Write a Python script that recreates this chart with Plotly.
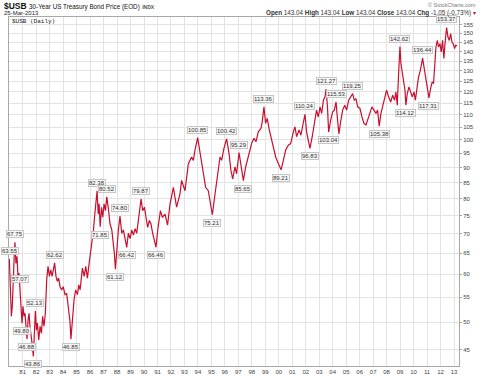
import datetime as dt
import math
import plotly.graph_objects as go

# ---------------- data ----------------
years = [
    1980.01, 1980.08, 1980.16, 1980.23, 1980.31, 1980.38, 1980.43, 1980.50, 1980.58, 1980.65,
    1980.73, 1980.80, 1980.88, 1980.95, 1981.02, 1981.10, 1981.17, 1981.25, 1981.32, 1981.40,
    1981.47, 1981.54, 1981.62, 1981.69, 1981.79, 1981.87, 1981.94, 1982.02, 1982.09, 1982.19,
    1982.29, 1982.39, 1982.48, 1982.58, 1982.68, 1982.78, 1982.88, 1982.98, 1983.08, 1983.18,
    1983.28, 1983.37, 1983.47, 1983.57, 1983.67, 1983.77, 1983.89, 1984.01, 1984.14, 1984.26,
    1984.39, 1984.51, 1984.58, 1984.68, 1984.81, 1984.93, 1985.06, 1985.16, 1985.26, 1985.43,
    1985.56, 1985.68, 1985.80, 1985.93, 1986.05, 1986.15, 1986.25, 1986.35, 1986.45, 1986.52,
    1986.60, 1986.67, 1986.75, 1986.85, 1986.94, 1987.04, 1987.14, 1987.24, 1987.36, 1987.48,
    1987.61, 1987.73, 1987.80, 1987.88, 1987.98, 1988.10, 1988.22, 1988.35, 1988.47, 1988.60,
    1988.72, 1988.84, 1988.97, 1989.09, 1989.21, 1989.34, 1989.46, 1989.58, 1989.68, 1989.78,
    1989.90, 1990.03, 1990.15, 1990.27, 1990.40, 1990.52, 1990.64, 1990.77, 1990.89, 1991.02,
    1991.14, 1991.22, 1991.36, 1991.56, 1991.75, 1991.93, 1992.18, 1992.42, 1992.67, 1992.79,
    1993.04, 1993.29, 1993.53, 1993.66, 1993.78, 1993.98, 1994.17, 1994.40, 1994.57, 1994.77,
    1994.90, 1995.07, 1995.27, 1995.51, 1995.64, 1995.76, 1995.93, 1996.13, 1996.31, 1996.45,
    1996.58, 1996.75, 1996.87, 1997.05, 1997.20, 1997.37, 1997.54, 1997.74, 1997.98, 1998.16,
    1998.31, 1998.48, 1998.68, 1998.77, 1998.90, 1999.02, 1999.14, 1999.30, 1999.47, 1999.60,
    1999.77, 1999.92, 2000.17, 2000.34, 2000.51, 2000.71, 2000.88, 2001.08, 2001.20, 2001.32,
    2001.50, 2001.64, 2001.82, 2001.94, 2002.06, 2002.19, 2002.31, 2002.48, 2002.63, 2002.80,
    2002.93, 2003.06, 2003.18, 2003.31, 2003.43, 2003.51, 2003.61, 2003.70, 2003.85, 2004.00,
    2004.12, 2004.25, 2004.34, 2004.46, 2004.59, 2004.74, 2004.89, 2005.03, 2005.18, 2005.33,
    2005.48, 2005.60, 2005.73, 2005.85, 2006.02, 2006.17, 2006.32, 2006.47, 2006.61, 2006.76,
    2006.91, 2007.06, 2007.21, 2007.33, 2007.45, 2007.58, 2007.70, 2007.85, 2008.00, 2008.15,
    2008.30, 2008.45, 2008.59, 2008.69, 2008.79, 2008.89, 2008.99, 2009.06, 2009.16, 2009.26,
    2009.36, 2009.43, 2009.53, 2009.66, 2009.78, 2009.90, 2010.03, 2010.13, 2010.25, 2010.37,
    2010.50, 2010.67, 2010.77, 2010.89, 2011.02, 2011.14, 2011.26, 2011.38, 2011.48, 2011.56,
    2011.66, 2011.76, 2011.85, 2011.96, 2012.05, 2012.15, 2012.25, 2012.33, 2012.45, 2012.55,
    2012.65, 2012.75, 2012.85, 2012.94, 2013.04, 2013.12, 2013.23,
]
prices = [
    63.55, 56.5, 51.1, 53.1, 61.8, 65.0, 67.75, 62.5, 64.2, 59.5,
    60.2, 57.07, 53.1, 49.80, 53.1, 51.1, 51.7, 49.2, 46.88, 50.4,
    51.7, 49.2, 47.9, 46.2, 43.86, 47.9, 52.13, 48.5, 49.8, 46.7,
    49.2, 47.9, 51.1, 49.2, 51.7, 58.7, 61.8, 59.5, 61.0, 59.5,
    61.4, 62.62, 59.5, 58.4, 59.1, 57.2, 56.5, 57.2, 55.5, 55.8,
    52.8, 50.1, 46.85, 50.4, 54.4, 56.5, 55.5, 57.6, 56.5, 61.4,
    59.5, 61.8, 59.1, 62.5, 65.4, 67.0, 71.0, 75.4, 79.4, 82.38,
    75.4, 78.4, 71.85, 77.4, 74.5, 78.4, 76.4, 80.52, 76.9, 72.6,
    71.0, 67.5, 65.0, 61.12, 66.6, 71.0, 74.80, 70.1, 71.0, 67.9,
    66.42, 70.1, 68.7, 71.0, 69.6, 71.3, 70.1, 73.6, 77.4, 79.87,
    76.4, 77.4, 74.5, 71.7, 73.6, 72.6, 70.1, 68.3, 66.46, 71.0,
    74.5, 76.4, 74.5, 75.4, 72.3, 78.3, 83.5, 77.4, 81.4, 85.7,
    82.4, 91.3, 93.7, 92.5, 96.2, 100.85, 94.9, 87.9, 83.5, 82.4,
    79.3, 75.21, 81.4, 89.0, 93.7, 92.5, 96.8, 100.42, 94.9, 89.0,
    86.2, 90.2, 87.9, 95.29, 90.2, 85.65, 90.2, 93.7, 98.6, 100.6,
    99.3, 103.1, 104.5, 107.2, 113.36, 106.5, 108.5, 103.8, 99.9, 96.2,
    93.7, 91.9, 89.21, 92.5, 96.2, 98.0, 98.6, 103.1, 105.1, 101.2,
    103.8, 101.8, 106.5, 110.24, 103.1, 99.9, 96.83, 101.2, 105.8, 112.0,
    109.1, 113.4, 110.6, 116.3, 117.8, 121.27, 113.4, 103.04, 107.8, 111.3,
    112.0, 115.53, 109.1, 102.3, 107.2, 112.0, 114.1, 112.0, 116.3, 117.8,
    119.25, 116.3, 117.0, 113.4, 112.7, 109.1, 106.5, 105.8, 108.4, 111.3,
    113.4, 112.0, 110.6, 112.0, 105.38, 110.6, 113.4, 117.0, 120.8, 117.8,
    115.5, 118.5, 116.3, 120.0, 114.1, 128.7, 142.62, 133.7, 129.4, 125.5,
    120.8, 114.12, 119.3, 122.3, 120.0, 117.8, 120.0, 116.3, 121.5, 127.1,
    130.3, 136.44, 132.0, 126.3, 121.5, 117.31, 121.5, 124.7, 123.9, 133.7,
    142.4, 146.0, 142.4, 144.2, 139.7, 146.0, 136.3, 144.2, 153.37, 147.9,
    146.0, 149.8, 145.1, 144.2, 141.5, 143.3, 143.04,
]

# labelled extremes: value and whether the label sits above (peak) or below (trough)
label_values = [63.55, 67.75, 57.07, 49.80, 46.88, 43.86, 52.13, 62.62, 46.85,
                82.38, 71.85, 80.52, 61.12, 74.80, 66.42, 79.87, 66.46,
                100.85, 75.21, 100.42, 95.29, 85.65, 113.36, 89.21, 110.24, 96.83,
                121.27, 103.04, 115.53, 119.25, 105.38, 142.62, 114.12, 136.44,
                117.31, 153.37]
label_above = [True, True, True, False, False, False, True, True, False,
               True, False, True, False, True, False, True, False,
               True, False, True, True, False, True, False, True, False,
               True, False, True, True, False, True, False, True,
               False, True]

y_ticks = list(range(45, 160, 5))
x_tick_years = list(range(1981, 2014))


def to_date(y):
    yr = int(y)
    return dt.datetime(yr, 1, 1) + dt.timedelta(days=(y - yr) * 365.25)


dates = [to_date(y) for y in years]

RED = "#c8102e"
GRID = "#e3e3e3"
FRAME = "#a8a8a8"
FONT = "Liberation Sans, Arial, sans-serif"

fig = go.Figure()
fig.add_trace(go.Scatter(x=dates, y=prices, mode="lines",
                         line=dict(color=RED, width=1.2), hoverinfo="skip",
                         showlegend=False))

# price labels
for v, above in zip(label_values, label_above):
    i = prices.index(v)
    first = i == 0
    fig.add_annotation(
        x=dates[i], y=math.log10(v), xref="x", yref="y",
        text=f"{v:.2f}", showarrow=False,
        yshift=8 if above else -8,
        xanchor="left" if first else "center",
        xshift=-8 if first else 0,
        font=dict(size=6, color="#333", family=FONT),
        bgcolor="rgba(246,246,246,0.95)", bordercolor="#c6c6c6",
        borderwidth=1, borderpad=0,
    )

# header texts (pixel placement converted to paper coords)
L, R, T, B = 9, 21, 17, 11
W, H = 480, 377
pw, ph = W - L - R, H - T - B


def px(x):
    return (x - L) / pw


def py(y):
    return (H - B - y) / ph


fig.add_annotation(x=px(2), y=py(6), xref="paper", yref="paper", xanchor="left",
                   yanchor="middle", showarrow=False,
                   text="<b>$USB</b> <span style='font-size:6.3px'>30-Year US Treasury Bond Price (EOD)</span>"
                        " <b><span style='font-size:5px;color:#555'>INDX</span></b>",
                   font=dict(size=8.5, color="#111", family=FONT))
fig.add_annotation(x=px(2), y=py(13.5), xref="paper", yref="paper", xanchor="left",
                   yanchor="middle", showarrow=False, text="25-Mar-2013",
                   font=dict(size=6, color="#222", family=FONT))
fig.add_annotation(x=px(10), y=py(21.5), xref="paper", yref="paper", xanchor="left",
                   yanchor="middle", showarrow=False, text="$USB (Daily)",
                   font=dict(size=6, color="#222", family="Liberation Mono, DejaVu Sans Mono, monospace"))
fig.add_annotation(x=px(478), y=py(5), xref="paper", yref="paper", xanchor="right",
                   yanchor="middle", showarrow=False, text="© StockCharts.com",
                   font=dict(size=5.5, color="#777", family=FONT))
fig.add_annotation(x=px(478), y=py(13.5), xref="paper", yref="paper", xanchor="right",
                   yanchor="middle", showarrow=False,
                   text="<b>Open</b> 143.04 <b>High</b> 143.04 <b>Low</b> 143.04 "
                        "<b>Close</b> 143.04 <b>Chg</b> -1.05 (-0.73%) <span style='color:#d0021b'>▾</span>",
                   font=dict(size=6.3, color="#333", family=FONT))

fig.update_layout(
    width=W, height=H,
    margin=dict(l=L, r=R, t=T, b=B, pad=0),
    paper_bgcolor="white", plot_bgcolor="white",
    font=dict(family=FONT, size=6, color="#444"),
    showlegend=False,
)
fig.update_xaxes(
    type="date",
    range=[to_date(1979.985), to_date(2013.368)],
    tickvals=[dt.datetime(y, 1, 1) for y in x_tick_years],
    ticktext=[f"{y % 100:02d}" for y in x_tick_years],
    showgrid=True, gridcolor=GRID, gridwidth=1,
    showline=True, linecolor=FRAME, linewidth=1, mirror=True,
    ticks="", tickfont=dict(size=6, color="#444"),
    automargin=False, zeroline=False,
)
fig.update_yaxes(
    type="log", side="right",
    range=[math.log10(42.3), math.log10(159.6)],
    tickvals=y_ticks, ticktext=[str(t) for t in y_ticks],
    showgrid=True, gridcolor=GRID, gridwidth=1,
    showline=True, linecolor=FRAME, linewidth=1, mirror=True,
    ticks="outside", ticklen=2, tickcolor=FRAME,
    tickfont=dict(size=6, color="#444"),
    automargin=False, zeroline=False,
)

fig.write_html(
    "out.html",
    config={"displayModeBar": False},
    post_script="document.body.style.margin='0px';document.body.style.overflow='hidden';",
)
